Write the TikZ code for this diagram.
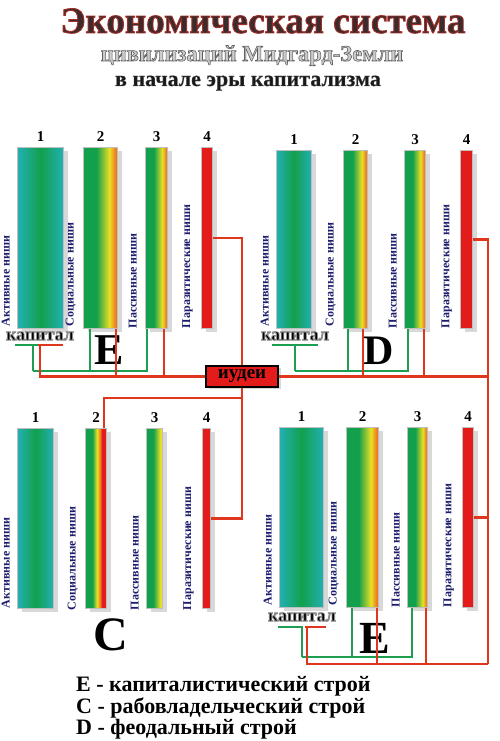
\documentclass[tikz,border=0pt]{standalone}
\usepackage{fontspec}
\setmainfont{Liberation Serif}
\usetikzlibrary{positioning, calc, shadows}

% Farben der Nischen und Leitungen
\definecolor{nicheteal}{HTML}{22B0B4}
\definecolor{nichegreen}{HTML}{12A04C}
\definecolor{nicheyellow}{HTML}{E8E024}
\definecolor{nicheorange}{HTML}{F0781E}
\definecolor{nichered}{HTML}{E41B1B}
\definecolor{wirered}{HTML}{E0361E}
\definecolor{wiregreen}{HTML}{1E9E50}
\definecolor{labelnavy}{HTML}{1E1E6E}
\definecolor{titledark}{HTML}{3A2C2C}

% Kontur der Schrift: Strichfarbe, Strichstaerke, Text
\newcommand\outlinetext[3]{\special{pdf:code #1 RG #2 w 2 Tr}#3\special{pdf:code 0 Tr}}

\pgfdeclarehorizontalshading{socialniche}{100bp}{color(0bp)=(nichegreen);
  color(25bp)=(nichegreen); color(44bp)=(nichegreen); color(63bp)=(nicheyellow);
  color(72bp)=(nicheorange); color(100bp)=(nicheorange)}
\pgfdeclarehorizontalshading{slaveniche}{100bp}{color(0bp)=(nichegreen);
  color(25bp)=(nichegreen); color(41bp)=(nichegreen); color(52bp)=(nicheyellow);
  color(60bp)=(nicheorange); color(64bp)=(nichered); color(100bp)=(nichered)}
\pgfdeclarehorizontalshading{passiveniche}{100bp}{color(0bp)=(nichegreen);
  color(25bp)=(nichegreen); color(46bp)=(nichegreen); color(68bp)=(nicheyellow);
  color(100bp)=(nicheyellow)}

\begin{document}
\begin{tikzpicture}[x=1pt, y=-1pt,
    niche/.style={rectangle, draw=gray!50, line width=1.2pt, inner sep=0pt,
                  anchor=north west, minimum height=181pt,
                  drop shadow={shadow xshift=4pt, shadow yshift=-3pt, opacity=0.3}},
    active/.style={niche, left color=nicheteal, right color=nicheteal,
                   middle color=nichegreen},
    social/.style={niche, shade, shading=socialniche},
    slave/.style={niche, shade, shading=slaveniche},
    passive/.style={niche, shade, shading=passiveniche},
    parasite/.style={niche, fill=nichered},
    nichelabel/.style={rotate=90, anchor=south west, inner sep=1pt, text=labelnavy,
                       font=\bfseries\fontsize{12}{12}\selectfont},
    nichenum/.style={inner sep=1pt, font=\bfseries\fontsize{15}{15}\selectfont},
    capital/.style={inner sep=1pt, font=\bfseries\fontsize{18}{18}\selectfont},
    order/.style={inner sep=0pt, font=\bfseries\fontsize{44}{44}\selectfont},
    judbox/.style={rectangle, fill=nichered, draw=black, line width=1.4pt,
                   minimum width=72pt, minimum height=21pt, inner sep=1pt,
                   font=\bfseries\fontsize{19}{19}\selectfont,
                   drop shadow={shadow xshift=3pt, shadow yshift=-2pt, opacity=0.3}},
    legend/.style={anchor=base west, inner sep=0pt,
                   font=\bfseries\fontsize{22}{22}\selectfont},
    wireR/.style={draw=wirered, line width=2.4pt},
    wireG/.style={draw=wiregreen, line width=2.4pt}
]
\fill[white] (0,0) rectangle (500,741);
\useasboundingbox (0,0) rectangle (500,741);

% Titel
\node[anchor=base, text=titledark, font=\bfseries\fontsize{37}{40}\selectfont]
    (title) at (263,33) {\outlinetext{0.64 0.18 0.16}{0.9}{Экономическая система}};
\node[anchor=base, text=gray!40, font=\bfseries\fontsize{22.5}{24}\selectfont]
    (subtitle) at (252,61) {\outlinetext{0.38 0.38 0.38}{0.6}{цивилизаций Мидгард-Земли}};
\node[anchor=base, text=black!90, font=\bfseries\fontsize{22}{24}\selectfont]
    (era) at (248,86) {\outlinetext{0.35 0.35 0.35}{0.3}{в начале эры капитализма}};

% Block E oben links
\node[active, minimum width=46pt] (ea1) at (17,147) {};
\node[social, minimum width=34pt] (ea2) at (83,147) {};
\node[social, minimum width=22pt] (ea3) at (145,147) {};
\node[parasite, minimum width=11pt] (ea4) at (201,147) {};
\node[nichenum, above=4pt of ea1] (ea1n) {1};
\node[nichenum, above=4pt of ea2] (ea2n) {2};
\node[nichenum, above=4pt of ea3] (ea3n) {3};
\node[nichenum, above=4pt of ea4] (ea4n) {4};
\node[nichelabel] (ea1t) at ([xshift=-6pt, yshift=2pt]ea1.south west) {Активные ниши};
\node[nichelabel] (ea2t) at ([xshift=-6pt, yshift=2pt]ea2.south west) {Социальные ниши};
\node[nichelabel] (ea3t) at ([xshift=-7pt, yshift=0pt]ea3.south west) {Пассивные ниши};
\node[nichelabel] (ea4t) at ([xshift=-7pt, yshift=0pt]ea4.south west) {Паразитические ниши};

% Block D oben rechts
\node[active, minimum width=35pt, minimum height=178pt] (dd1) at (276,150) {};
\node[social, minimum width=24pt, minimum height=178pt] (dd2) at (343,150) {};
\node[social, minimum width=21pt, minimum height=178pt] (dd3) at (404,150) {};
\node[parasite, minimum width=12pt, minimum height=178pt] (dd4) at (460,150) {};
\node[nichenum, above=4pt of dd1] (dd1n) {1};
\node[nichenum, above=4pt of dd2] (dd2n) {2};
\node[nichenum, above=4pt of dd3] (dd3n) {3};
\node[nichenum, above=4pt of dd4] (dd4n) {4};
\node[nichelabel] (dd1t) at ([xshift=-6pt, yshift=2pt]dd1.south west) {Активные ниши};
\node[nichelabel] (dd2t) at ([xshift=-6pt, yshift=2pt]dd2.south west) {Социальные ниши};
\node[nichelabel] (dd3t) at ([xshift=-6pt, yshift=0pt]dd3.south west) {Пассивные ниши};
\node[nichelabel] (dd4t) at ([xshift=-7pt, yshift=0pt]dd4.south west) {Паразитические ниши};

% Block C unten links
\node[active, minimum width=36pt, minimum height=180pt] (cc1) at (17,428) {};
\node[slave, minimum width=21pt, minimum height=180pt] (cc2) at (85,428) {};
\node[passive, minimum width=16pt, minimum height=180pt] (cc3) at (146,428) {};
\node[parasite, minimum width=8pt, minimum height=180pt] (cc4) at (202,428) {};
\node[nichenum, above=4pt of cc1] (cc1n) {1};
\node[nichenum, above=4pt of cc2] (cc2n) {2};
\node[nichenum, above=4pt of cc3] (cc3n) {3};
\node[nichenum, above=4pt of cc4] (cc4n) {4};
\node[nichelabel] (cc1t) at ([xshift=-6pt, yshift=0pt]cc1.south west) {Активные ниши};
\node[nichelabel] (cc2t) at ([xshift=-6pt, yshift=-2pt]cc2.south west) {Социальные ниши};
\node[nichelabel] (cc3t) at ([xshift=-6pt, yshift=-2pt]cc3.south west) {Пассивные ниши};
\node[nichelabel] (cc4t) at ([xshift=-7pt, yshift=-2pt]cc4.south west) {Паразитические ниши};

% Block E unten rechts
\node[active, minimum width=44pt, minimum height=180pt] (eb1) at (279,427) {};
\node[social, minimum width=32pt, minimum height=180pt] (eb2) at (346,427) {};
\node[social, minimum width=20pt, minimum height=180pt] (eb3) at (407,427) {};
\node[parasite, minimum width=11pt, minimum height=180pt] (eb4) at (462,427) {};
\node[nichenum, above=4pt of eb1] (eb1n) {1};
\node[nichenum, above=4pt of eb2] (eb2n) {2};
\node[nichenum, above=4pt of eb3] (eb3n) {3};
\node[nichenum, above=4pt of eb4] (eb4n) {4};
\node[nichelabel] (eb1t) at ([xshift=-6pt, yshift=2pt]eb1.south west) {Активные ниши};
\node[nichelabel] (eb2t) at ([xshift=-6pt, yshift=2pt]eb2.south west) {Социальные ниши};
\node[nichelabel] (eb3t) at ([xshift=-6pt, yshift=0pt]eb3.south west) {Пассивные ниши};
\node[nichelabel] (eb4t) at ([xshift=-7pt, yshift=0pt]eb4.south west) {Паразитические ниши};

% Kapital und Buchstaben der Ordnungen
\node[capital] (eaK) at (40,336) {\outlinetext{0.55 0.55 0.55}{0.8}{капитал}};
\node[capital] (ddK) at (295,336) {\outlinetext{0.55 0.55 0.55}{0.8}{капитал}};
\node[capital] (ebK) at (302,617) {\outlinetext{0.55 0.55 0.55}{0.8}{капитал}};
\node[order] (eaL) at (109,350) {E};
\node[order, font=\bfseries\fontsize{42}{42}\selectfont] (ddL) at (379,351) {D};
\node[order, font=\bfseries\fontsize{48}{48}\selectfont] (ccL) at (111,635) {C};
\node[order, font=\bfseries\fontsize{46}{46}\selectfont] (ebL) at (375,638) {E};

\node[judbox] (jud) at (242,376.5) {иудеи};

% Leitungen oben links
\coordinate (eaGs) at (15,345);
\coordinate (eaGc) at (33,371);
\coordinate (eaRs) at (63,345);
\coordinate (eaRc) at (40,376.5);
\draw[wireG] (eaGs) -- ++(23,0);
\draw[wireG] (eaGs -| eaGc) -- (eaGc);
\draw[wireG] ([xshift=7pt]ea2.south west) |- (eaGc);
\draw[wireG] ([xshift=2pt]ea3.south west) |- (eaGc);
\draw[wireR] (eaRs) -- ++(-25,0);
\draw[wireR] (eaRs -| eaRc) -- (eaRc) -- (jud.west);
\draw[wireR] ([xshift=-2pt]ea2.south east) |- (eaRc);
\draw[wireR] ([xshift=-4pt]ea3.south east) |- (eaRc);
\draw[wireR] (ea4.east) -| (jud.north);
\draw[wireR] (jud.south) |- (cc4.east);
\coordinate (ccRc) at (242,398);
\draw[wireR] ([xshift=-3pt]cc2.north east) |- (ccRc);

% Leitungen oben rechts
\coordinate (ddGs) at (272,345);
\coordinate (ddGc) at (295,371);
\coordinate (ddRc) at (488,376.5);
\draw[wireG] (ddGs) -- ++(46,0);
\draw[wireG] (ddGs -| ddGc) -- (ddGc);
\draw[wireG] ([xshift=5pt]dd2.south west) |- (ddGc);
\draw[wireG] ([xshift=4pt]dd3.south west) |- (ddGc);
\draw[wireR] (jud.east) -- (ddRc);
\draw[wireR] ([xshift=-5pt]dd2.south east) |- (ddRc);
\draw[wireR] ([xshift=-2pt]dd3.south east) |- (ddRc);

% Leitungen unten rechts
\coordinate (ebGs) at (278,627);
\coordinate (ebGc) at (302,657);
\coordinate (ebRs) at (326,627);
\coordinate (ebRl) at (307,664);
\coordinate (ebRc) at (488,664);
\draw[wireG] (ebGs) -- (ebGs -| ebGc) -- (ebGc);
\draw[wireG] ([xshift=6pt]eb2.south west) |- (ebGc);
\draw[wireG] ([xshift=5pt]eb3.south west) |- (ebGc);
\draw[wireR] (ebRs) -- ++(-21,0);
\draw[wireR] (ebRs -| ebRl) -- (ebRl) -- (ebRc);
\draw[wireR] ([xshift=-2pt]eb2.south east) |- (ebRl);
\draw[wireR] ([xshift=-2pt]eb3.south east) |- (ebRl);
\draw[wireR] (dd4.east) -| (ebRc);
\draw[wireR] (eb4.east) -- (eb4.east -| ebRc);

% Legende
\node[legend] (leg1) at (76,691) {E - капиталистический строй};
\node[legend] (leg2) at (76,713) {C - рабовладельческий строй};
\node[legend] (leg3) at (76,734) {D - феодальный строй};
\end{tikzpicture}
\end{document}
